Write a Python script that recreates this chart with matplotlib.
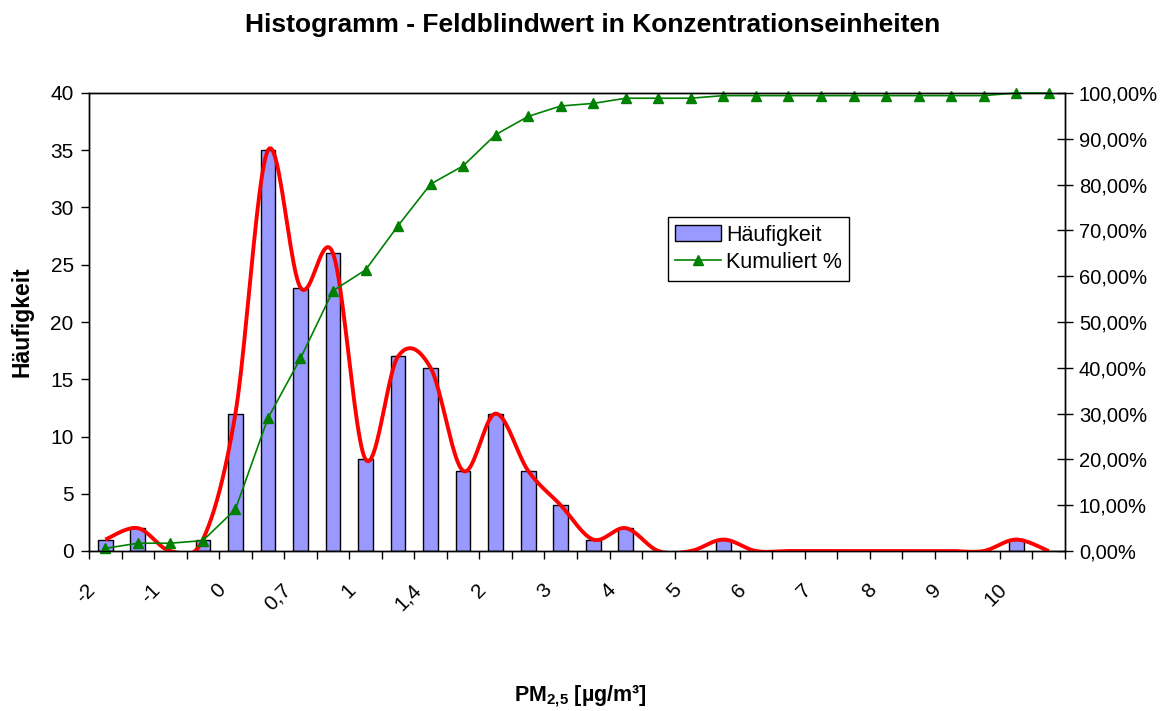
import numpy as np
import matplotlib
matplotlib.use("Agg")
import matplotlib.pyplot as plt
from matplotlib.ticker import FuncFormatter, MultipleLocator

plt.rcParams["font.family"] = ["Liberation Sans", "DejaVu Sans"]
plt.rcParams["mathtext.fontset"] = "custom"
plt.rcParams["mathtext.bf"] = "Liberation Sans:bold"
plt.rcParams["mathtext.rm"] = "Liberation Sans"

# Klassen (jede zweite Beschriftung wird angezeigt)
bins = ["-2", "-1,5", "-1", "-0,5", "0", "0,35", "0,7", "0,85", "1", "1,2",
        "1,4", "1,7", "2", "2,5", "3", "3,5", "4", "4,5", "5", "5,5",
        "6", "6,5", "7", "7,5", "8", "8,5", "9", "9,5", "10", "Weitere"]
haeufigkeit = [1, 2, 0, 1, 12, 35, 23, 26, 8, 17,
               16, 7, 12, 7, 4, 1, 2, 0, 0, 1,
               0, 0, 0, 0, 0, 0, 0, 0, 1, 0]
kumuliert = [0.57, 1.70, 1.70, 2.27, 9.09, 28.98, 42.05, 56.82, 61.36, 71.02,
             80.11, 84.09, 90.91, 94.89, 97.16, 97.73, 98.86, 98.86, 98.86, 99.43,
             99.43, 99.43, 99.43, 99.43, 99.43, 99.43, 99.43, 99.43, 100.0, 100.0]


def smooth(xs, ys, n=24):
    # Excel-artige Glaettung (Catmull-Rom als Bezier)
    xs, ys = np.asarray(xs, float), np.asarray(ys, float)
    px, py = [], []
    for i in range(len(xs) - 1):
        i0, i3 = max(i - 1, 0), min(i + 2, len(xs) - 1)
        c1x = xs[i] + (xs[i + 1] - xs[i0]) / 6
        c1y = ys[i] + (ys[i + 1] - ys[i0]) / 6
        c2x = xs[i + 1] - (xs[i3] - xs[i]) / 6
        c2y = ys[i + 1] - (ys[i3] - ys[i]) / 6
        t = np.linspace(0, 1, n)
        a, b, c, d = (1 - t) ** 3, 3 * t * (1 - t) ** 2, 3 * t ** 2 * (1 - t), t ** 3
        px.extend(a * xs[i] + b * c1x + c * c2x + d * xs[i + 1])
        py.extend(a * ys[i] + b * c1y + c * c2y + d * ys[i + 1])
    return px, py


x = np.arange(len(bins))

fig = plt.figure(figsize=(11.6, 7.11), dpi=100)
ax = fig.add_axes([89 / 1160, 1 - 551 / 711, 976 / 1160, 458 / 711])
ax2 = ax.twinx()

bars = ax.bar(x, haeufigkeit, width=0.45, color="#9999FF", edgecolor="black",
              linewidth=1, label="Häufigkeit", zorder=2)
sx, sy = smooth(x, haeufigkeit)
ax.plot(sx, sy, color="red", linewidth=2.8, zorder=3, solid_capstyle="butt")

line, = ax2.plot(x, kumuliert, color="#008000", linewidth=1.2, marker="^",
                 markersize=7.5, label="Kumuliert %", clip_on=False)

ax.set_xlim(-0.5, len(bins) - 0.5)
ax.set_ylim(0, 40)
ax2.set_ylim(0, 100)
ax.yaxis.set_major_locator(MultipleLocator(5))
ax2.yaxis.set_major_locator(MultipleLocator(10))
ax2.yaxis.set_major_formatter(FuncFormatter(lambda v, p: f"{v:.2f}%".replace(".", ",")))

# Teilstriche an den Klassengrenzen, Beschriftung (jede zweite) etwas links der Mitte
ax.set_xticks(np.arange(-0.5, len(bins), 1))
ax.set_xticklabels([])
ax.set_xticks(x[::2] - 0.18, minor=True)
ax.set_xticklabels(bins[::2], minor=True, rotation=45, ha="right", va="top",
                   fontsize=15)
ax.tick_params(axis="x", which="major", direction="out", length=6, width=1)
ax.tick_params(axis="x", which="minor", length=0, pad=21)
ax.tick_params(axis="y", direction="out", length=6, width=1, labelsize=15, pad=5)
ax2.tick_params(axis="y", direction="inout", length=12, width=1, labelsize=14.5, pad=4)

for a in (ax, ax2):
    for s in a.spines.values():
        s.set_linewidth(1)

fig.text(0.511, 1 - 25 / 711, "Histogramm - Feldblindwert in Konzentrationseinheiten",
         ha="center", va="center", fontsize=19, fontweight="bold")
fig.text(22 / 1160, 1 - 322 / 711, "Häufigkeit", rotation=90, ha="center",
         va="center", fontsize=16.5, fontweight="bold")
fig.text(0.5, 1 - 696 / 711, r"PM$\mathbf{_{2{,}5}}$ [µg/m³]", ha="center",
         va="center", fontsize=15.5, fontweight="bold")

leg = ax2.legend([bars, line], ["Häufigkeit", "Kumuliert %"], loc="upper left",
                 bbox_to_anchor=(0.593, 0.729), borderaxespad=0, fontsize=15.5,
                 fancybox=False, framealpha=1, edgecolor="black",
                 handlelength=2.1, handleheight=0.8, handletextpad=0.25,
                 borderpad=0.35, labelspacing=0.3)
leg.get_frame().set_linewidth(1)

fig.savefig("out.png", dpi=100, facecolor="white")
